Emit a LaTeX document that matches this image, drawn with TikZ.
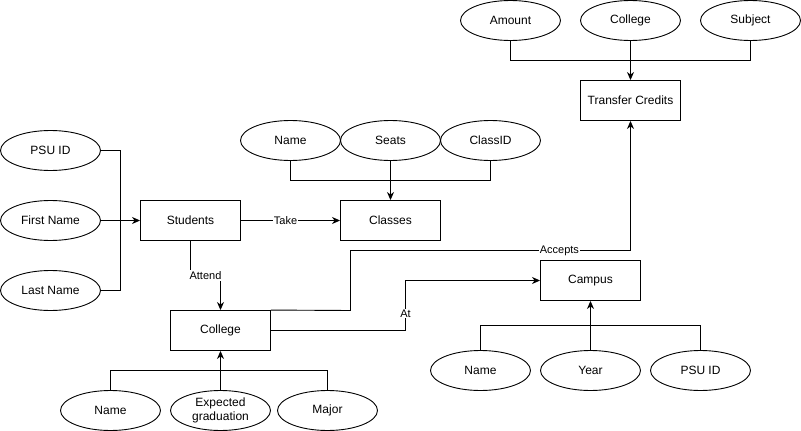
\documentclass[tikz,border=0pt]{standalone}
\usepackage{fontspec}
\setmainfont{Liberation Sans}
\usetikzlibrary{shapes.geometric,arrows.meta}
\begin{document}
\begin{tikzpicture}[x=1pt,y=-1pt,
  every node/.style={font=\fontsize{12}{14}\selectfont},
  attr/.style={draw,ellipse,minimum width=100pt,minimum height=40pt,inner sep=0pt,align=center,line width=0.9pt},
  ent/.style={draw,rectangle,minimum width=100pt,minimum height=40pt,inner sep=0pt,line width=0.9pt},
  conn/.style={line width=0.9pt},
  arr/.style={conn,-{Stealth[length=8pt,width=7pt,inset=2.5pt]}},
  lab/.style={fill=white,inner sep=1pt,font=\fontsize{11}{13}\selectfont}]
\useasboundingbox (-0.5,-0.5) rectangle (800.5,430.5);
% nodes
\node[attr] (psuid) at (50,150) {PSU ID};
\node[attr] (fname) at (50,220) {First Name};
\node[attr] (lname) at (50,290) {Last Name};
\node[ent] (students) at (190,220) {Students};
\node[ent] (classes) at (390,220) {Classes};
\node[attr] (cname) at (290,140) {Name};
\node[attr] (seats) at (390,140) {Seats};
\node[attr] (classid) at (490,140) {ClassID};
\node[ent] (college) at (220,330) {College};
\node[attr] (colname) at (110,410) {Name};
\node[attr] (expgrad) at (220,410) {Expected\\graduation};
\node[attr] (major) at (327,410) {Major};
\node[ent] (transfer) at (630,100) {Transfer Credits};
\node[attr] (amount) at (510,20) {Amount};
\node[attr] (tcollege) at (630,20) {College};
\node[attr] (subject) at (750,20) {Subject};
\node[ent] (campus) at (590,280) {Campus};
\node[attr] (campname) at (480,370) {Name};
\node[attr] (year) at (590,370) {Year};
\node[attr] (campid) at (700,370) {PSU ID};
% junction coordinates
\coordinate (sj) at (120,220);
\coordinate (cj) at (390,180);
\coordinate (gj) at (220,370);
\coordinate (tj) at (630,60);
\coordinate (pj) at (590,325);
\coordinate (at1) at (190,275);
\coordinate (at2) at (220,275);
\coordinate (a1) at (405,330);
\coordinate (a2) at (405,280);
\coordinate (ac1) at (350,310);
\coordinate (ac2) at (350,250);
\coordinate (ac3) at (630,250);
% students attributes
\draw[conn] (psuid.east) -| (sj);
\draw[conn] (lname.east) -| (sj);
\draw[arr] (fname) -- (students);
% classes attributes
\draw[conn] (cname.south) |- (cj);
\draw[conn] (classid.south) |- (cj);
\draw[arr] (seats) -- (classes);
% college attributes
\draw[conn] (colname.north) |- (gj);
\draw[conn] (major.north) |- (gj);
\draw[arr] (expgrad) -- (college);
% transfer attributes
\draw[conn] (amount.south) |- (tj);
\draw[conn] (subject.south) |- (tj);
\draw[arr] (tcollege) -- (transfer);
% campus attributes
\draw[conn] (campname.north) |- (pj);
\draw[conn] (campid.north) |- (pj);
\draw[arr] (year) -- (campus);
% relationships
\draw[arr] (students) -- node[lab,pos=0.45]{Take} (classes);
\draw[arr] (students.south) -- (at1) -- (at2) -- (college.north);
\node[lab] (attendlab) at (205,275) {Attend};
\draw[arr] (college.east) -- (a1) -- node[lab,pos=0.34]{At} (a2) -- (campus.west);
\draw[arr] (college.north east) -- (ac1) -- (ac2) -- node[lab,pos=0.746]{Accepts} (ac3) -- (transfer.south);
\end{tikzpicture}
\end{document}
